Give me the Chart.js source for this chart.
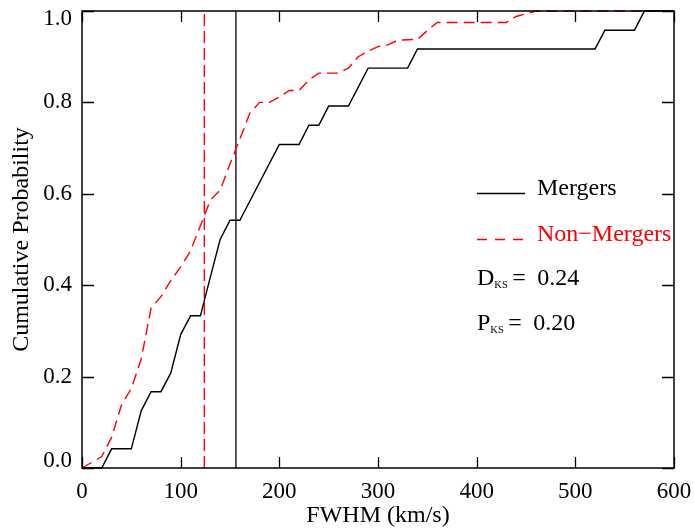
<!DOCTYPE html>
<html>
<head>
<meta charset="utf-8">
<script src="https://cdn.jsdelivr.net/npm/chart.js@4.4.1/dist/chart.umd.min.js"></script>
<style>
  html, body { margin: 0; padding: 0; background: #fff; }
  #wrap { width: 694px; height: 529px; }
</style>
</head>
<body>
<div id="wrap"><canvas id="ksChart" width="694" height="529"></canvas></div>
<script>
// Cumulative distributions (FWHM in km/s)
const fwhmMergers = [0, 20, 30, 50, 60, 70, 80, 90, 100, 110, 120, 130, 140, 150, 160, 200, 220, 230, 240, 250, 270, 290, 330, 340, 520, 530, 560, 570, 600];
const cumMergers = [0, 0, 0.042, 0.042, 0.125, 0.167, 0.167, 0.208, 0.292, 0.333, 0.333, 0.417, 0.5, 0.542, 0.542, 0.708, 0.708, 0.75, 0.75, 0.792, 0.792, 0.875, 0.875, 0.917, 0.917, 0.958, 0.958, 1, 1];

const fwhmNonMergers = [0, 20, 30, 40, 50, 60, 70, 80, 90, 100, 110, 120, 130, 140, 150, 160, 170, 180, 190, 200, 210, 220, 230, 240, 260, 270, 280, 290, 300, 310, 320, 340, 350, 360, 430, 440, 450, 460, 600];
const cumNonMergers = [0, 0.025, 0.067, 0.138, 0.174, 0.238, 0.35, 0.375, 0.41, 0.44, 0.475, 0.53, 0.586, 0.608, 0.665, 0.72, 0.776, 0.8, 0.8, 0.812, 0.826, 0.826, 0.849, 0.864, 0.864, 0.875, 0.9, 0.912, 0.922, 0.926, 0.936, 0.938, 0.957, 0.975, 0.975, 0.988, 0.994, 1, 1];

// vertical marker lines (mean FWHM of each sample)
const markMergers = 156;
const markNonMergers = 124;

const xTicks = [0, 100, 200, 300, 400, 500, 600];
const yTicks = [0, 0.2, 0.4, 0.6, 0.8, 1.0];

const legendLabels = ['Mergers', 'Non\u2212Mergers'];
const legendColors = ['#000000', '#ff0000'];
const ksNames = ['D', 'P'];
const ksValues = ['0.24', '0.20'];

const serif = 'Liberation Serif';
Chart.defaults.font.family = serif;
Chart.defaults.color = '#000';

function toPoints(xs, ys) {
  return xs.map((x, i) => ({ x: x, y: ys[i] }));
}

// frame with inward ticks on all four sides, y labels kept inside the frame height
const framePlugin = {
  id: 'frame',
  afterDatasetsDraw(chart) {
    const { ctx, chartArea: a, scales } = chart;
    ctx.save();
    ctx.strokeStyle = '#000';
    ctx.lineWidth = 1.5;
    ctx.strokeRect(a.left, a.top, a.right - a.left, a.bottom - a.top);
    ctx.lineWidth = 1.3;
    ctx.beginPath();
    xTicks.forEach(v => {
      const px = Math.round(scales.x.getPixelForValue(v)) + 0.5;
      ctx.moveTo(px, a.bottom); ctx.lineTo(px, a.bottom - 11);
      ctx.moveTo(px, a.top); ctx.lineTo(px, a.top + 11);
    });
    yTicks.forEach(v => {
      const py = Math.round(scales.y.getPixelForValue(v)) + 0.5;
      ctx.moveTo(a.left, py); ctx.lineTo(a.left + 12, py);
      ctx.moveTo(a.right, py); ctx.lineTo(a.right - 12, py);
    });
    ctx.stroke();

    ctx.fillStyle = '#000';
    ctx.font = '23px ' + serif;
    ctx.textAlign = 'right';
    ctx.textBaseline = 'middle';
    yTicks.forEach(v => {
      const py = scales.y.getPixelForValue(v);
      const ly = Math.min(Math.max(py, a.top + 8), a.bottom - 7);
      ctx.fillText(v.toFixed(1), a.left - 10, ly);
    });
    ctx.restore();
  }
};

// legend and KS statistics inside the plot
const legendPlugin = {
  id: 'ksLegend',
  afterDraw(chart) {
    const ctx = chart.ctx;
    ctx.save();
    const x0 = 477, x1 = 525, tx = 537;
    const rows = [193, 239];
    legendLabels.forEach((lab, i) => {
      ctx.strokeStyle = legendColors[i];
      ctx.lineWidth = 1.4;
      ctx.setLineDash(i === 1 ? [10, 8] : []);
      ctx.beginPath();
      ctx.moveTo(x0, rows[i] + 0.5);
      ctx.lineTo(x1, rows[i] + 0.5);
      ctx.stroke();
      ctx.setLineDash([]);
      ctx.fillStyle = legendColors[i];
      ctx.font = '24px ' + serif;
      ctx.textBaseline = 'alphabetic';
      ctx.fillText(lab, tx, rows[i] + 2);
    });
    const ksRows = [285, 330];
    ctx.fillStyle = '#000';
    ksNames.forEach((n, i) => {
      const y = ksRows[i];
      ctx.font = '24px ' + serif;
      ctx.fillText(n, 477, y);
      const w = ctx.measureText(n).width;
      ctx.font = '10.5px ' + serif;
      ctx.fillText('KS', 477 + w, y + 3);
      ctx.font = '24px ' + serif;
      ctx.fillText('=', 477 + w + 18, y);
      ctx.fillText(ksValues[i], 477 + w + 43, y);
    });
    ctx.restore();
  }
};

const ctx = document.getElementById('ksChart').getContext('2d');
const ksChart = new Chart(ctx, {
  type: 'scatter',
  data: {
    datasets: [
      {
        label: 'Mergers',
        data: toPoints(fwhmMergers, cumMergers),
        showLine: true,
        borderColor: '#000',
        borderWidth: 1.4,
        pointRadius: 0,
        clip: false
      },
      {
        label: 'Non-Mergers',
        data: toPoints(fwhmNonMergers, cumNonMergers),
        showLine: true,
        borderColor: '#ff0000',
        borderWidth: 1.4,
        borderDash: [11, 6],
        pointRadius: 0,
        clip: false
      },
      {
        label: 'mark-m',
        data: [{ x: markMergers, y: 0 }, { x: markMergers, y: 1 }],
        showLine: true,
        borderColor: '#000',
        borderWidth: 1.3,
        pointRadius: 0
      },
      {
        label: 'mark-n',
        data: [{ x: markNonMergers, y: 0 }, { x: markNonMergers, y: 1 }],
        showLine: true,
        borderColor: '#ff0000',
        borderWidth: 1.4,
        borderDash: [12, 5],
        pointRadius: 0
      }
    ]
  },
  options: {
    responsive: false,
    animation: false,
    devicePixelRatio: 1,
    layout: { padding: { top: 11, right: 20, left: 0, bottom: 0 } },
    plugins: {
      legend: { display: false },
      tooltip: { enabled: false }
    },
    scales: {
      x: {
        type: 'linear',
        min: 0,
        max: 600,
        afterBuildTicks: s => { s.ticks = xTicks.map(v => ({ value: v })); },
        grid: { display: false, drawTicks: false },
        border: { display: false },
        ticks: { font: { size: 23 }, padding: 10, maxRotation: 0, callback: v => String(v) },
        title: { display: true, text: 'FWHM (km/s)', font: { size: 24, lineHeight: 1.0 }, padding: { top: 0, bottom: 1 } },
        afterFit: s => { s.height = 61; s.paddingLeft = 0; s.paddingRight = 0; }
      },
      y: {
        type: 'linear',
        min: 0,
        max: 1,
        afterBuildTicks: s => { s.ticks = yTicks.map(v => ({ value: v })); },
        grid: { display: false, drawTicks: false },
        border: { display: false },
        ticks: { display: false },
        title: { display: true, text: 'Cumulative Probability', font: { size: 24, lineHeight: 1.2 }, padding: { top: 7, bottom: 0 } },
        afterFit: s => { s.width = 82; s.paddingTop = 0; s.paddingBottom = 0; }
      }
    }
  },
  plugins: [framePlugin, legendPlugin]
});
</script>
</body>
</html>
